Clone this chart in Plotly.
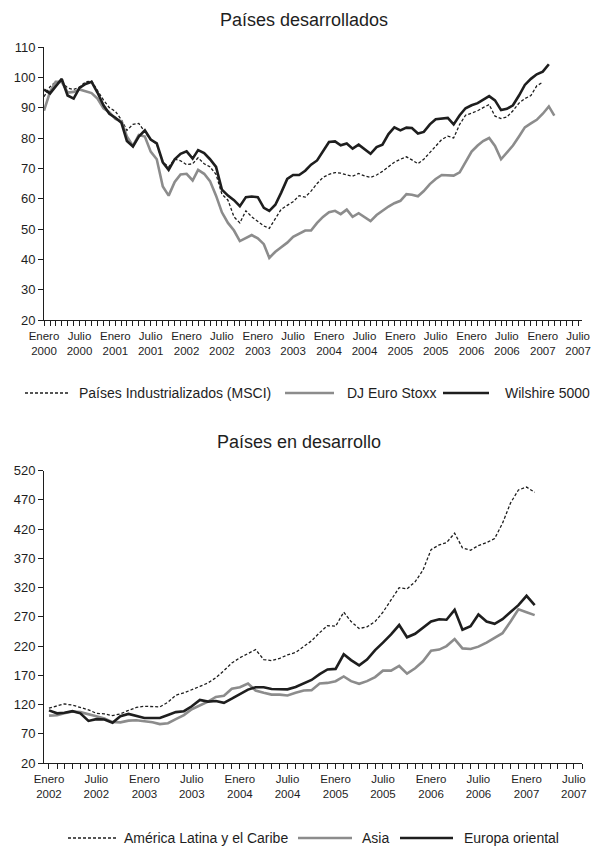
import pandas as pd
import plotly.graph_objects as go

INK = "#1e1e1e"
GRAY = "#8c8c8c"
FONT = "Liberation Sans, Arial, sans-serif"
W, H = 592, 852
ML, MR, MT, MB = 44, 10, 47, 89

# --- Países desarrollados: monthly index values from Jan 2000 ---
msci = [93.6, 96.9, 98.5, 98.5, 96.5, 96, 96.8, 98.5, 98.8, 95.5, 92.5, 90, 88.8, 86, 82.5, 84.5,
        84.8, 82, 79.5, 78, 72, 70.5, 73, 72.5, 71.2, 71.5, 73.5, 71.5, 70.5, 68, 61.5, 59.5, 54,
        52, 56, 54, 52.4, 51, 50.2, 53.2, 56.5, 57.8, 59, 61, 60.5, 62.5, 65, 67, 68, 68.6, 68.4,
        67.8, 67.4, 68.3, 67.5, 67, 67.8, 69, 70.4, 72, 73, 73.8, 72.8, 71.5, 73, 75.2, 77.3, 79.5,
        80.6, 80, 84.5, 87.5, 88.2, 89, 90, 91, 87.2, 86.4, 86.9, 89, 91.5, 93, 94, 97.2, 98.4]
euro_stoxx = [89, 95.2, 98.5, 98.5, 95, 95.2, 96, 95.5, 94.8, 93, 89.8, 88.5, 86.3, 85.5, 80.5,
              77.4, 81, 80.5, 75.5, 73, 64, 61, 65.5, 68, 68.2, 66, 69.5, 68.2, 65.8, 61, 55.5, 52,
              49.5, 46, 47, 48, 46.9, 45, 40.5, 42.5, 44, 45.5, 47.4, 48.4, 49.5, 49.5, 52, 54,
              55.5, 56, 54.9, 56.4, 54, 55.2, 53.8, 52.6, 54.6, 56, 57.4, 58.5, 59.3, 61.5, 61.3,
              60.8, 62.5, 64.8, 66.5, 67.8, 67.6, 67.6, 68.7, 72, 75.5, 77.5, 79, 80, 77.4, 73,
              75.3, 77.5, 80.5, 83.5, 84.8, 86, 88, 90.4, 87.4]
wilshire = [96, 94.7, 97, 99.5, 94, 93, 96.5, 97.8, 98.5, 95, 90.8, 88, 86.7, 85, 79, 77.2, 80.5,
            82.5, 79.5, 78.2, 72, 69.5, 73, 74.8, 75.6, 73.2, 76, 75, 73, 70.5, 63, 61, 59.5, 57.5,
            60.5, 60.7, 60.5, 57, 56, 58, 62, 66.5, 67.8, 67.8, 69.2, 71.2, 72.6, 75.5, 78.7, 78.9,
            77.6, 78.2, 76.5, 77.8, 76.3, 74.8, 77, 77.8, 81.3, 83.5, 82.5, 83.4, 83.3, 81.5, 82,
            84.5, 86.2, 86.4, 86.6, 84.5, 87.5, 89.8, 90.8, 91.5, 92.5, 93.8, 92.4, 89.2, 89.6,
            90.8, 94, 97.5, 99.5, 101, 101.9, 104.3]

# --- Países en desarrollo: monthly index values from Jan 2002 ---
america_latina = [114, 118, 121, 119, 115, 111, 105, 104, 101, 104, 110, 115, 117, 116.5, 116,
                  124, 136, 140, 146, 151, 157, 166, 178, 191, 200, 207, 214, 197, 195, 199, 205,
                  209, 219, 229, 243, 255, 254, 278, 262, 250, 253, 262, 278, 300, 320, 318, 330,
                  350, 385, 393, 397, 413, 388, 384, 392, 397, 404, 430, 465, 487, 492, 483]
asia = [101, 101.7, 105, 108, 107, 104, 100, 96, 90, 89.5, 92.5, 93, 91, 89.7, 86.5, 88, 95, 102,
        112, 118.5, 125, 133, 135, 147, 149.5, 156, 144, 140, 137, 137, 135.5, 140, 144, 144.6,
        156, 157, 160, 168, 160, 155.4, 160, 167, 178, 178, 186, 173, 182, 194, 212, 214, 220,
        232, 216, 215, 219, 226, 234, 242, 262, 283, 278, 273]
europa_oriental = [110, 105, 106, 108.6, 105, 92, 95, 94.5, 89, 100, 104, 101, 97, 97, 97, 102,
                   107, 108.6, 117, 128, 125, 126, 123, 130, 138, 145.5, 149.7, 149.7, 146.5,
                   146.5, 146, 150, 156, 162, 172, 180, 181, 206, 196, 187, 197, 213, 226, 240,
                   256, 235, 241, 251, 262, 266, 265, 282, 248, 254, 274, 262, 258, 266, 278, 290,
                   306, 290]

DOTTED = dict(color=INK, width=1.3, dash="3px,2px")
GREY_LINE = dict(color=GRAY, width=2.6)
BLACK_LINE = dict(color=INK, width=2.6)


def months(start, values):
    return pd.date_range(start, periods=len(values), freq="MS")


def half_year_ticks(first_year, last_year):
    vals, text = [], []
    for y in range(first_year, last_year + 1):
        vals += [f"{y}-01-01", f"{y}-07-01"]
        text += [f"Enero<br>{y}", f"Julio<br>{y}"]
    return vals, text


def px(x):  # page pixel -> paper fraction
    return (x - ML) / (W - ML - MR)


def py(y):
    return 1 - (y - MT) / (H - MT - MB)


fig = go.Figure()

# (name, values, line style, legend sample x0, x1, text x) -- legend drawn by hand,
# Plotly's own legend has fixed 30px samples and wraps the top row
top = [
    ("Países Industrializados (MSCI)", msci, DOTTED, 25, 70, 77),
    ("DJ Euro Stoxx", euro_stoxx, GREY_LINE, 285, 334, 345),
    ("Wilshire 5000", wilshire, BLACK_LINE, 443, 489, 503),
]
bottom = [
    ("América Latina y el Caribe", america_latina, DOTTED, 68, 116, 122),
    ("Asia", asia, GREY_LINE, 298, 352, 360),
    ("Europa oriental", europa_oriental, BLACK_LINE, 400, 453, 462),
]

shapes, annotations = [], []
for entries, start, ax, legend_y in [(top, "2000-01-01", ("x", "y"), 393),
                                     (bottom, "2002-01-01", ("x2", "y2"), 838)]:
    for name, vals, line, x0, x1, tx in entries:
        fig.add_trace(go.Scatter(x=months(start, vals), y=vals, name=name, mode="lines",
                                 line=line, xaxis=ax[0], yaxis=ax[1], showlegend=False,
                                 hovertemplate="%{x|%b %Y}: %{y}<extra>" + name + "</extra>"))
        shapes.append(dict(type="line", xref="paper", yref="paper", x0=px(x0), x1=px(x1),
                           y0=py(legend_y), y1=py(legend_y), line=line))
        annotations.append(dict(text=name, x=px(tx), y=py(legend_y), xref="paper", yref="paper",
                                showarrow=False, xanchor="left", yanchor="middle",
                                font=dict(size=14)))

annotations += [
    dict(text="Países desarrollados", x=px(304), y=py(20), xref="paper", yref="paper",
         showarrow=False, font=dict(size=18), xanchor="center", yanchor="middle"),
    dict(text="Países en desarrollo", x=px(299), y=py(442), xref="paper", yref="paper",
         showarrow=False, font=dict(size=18), xanchor="center", yanchor="middle"),
]

tv1, tt1 = half_year_ticks(2000, 2007)
tv2, tt2 = half_year_ticks(2002, 2007)
common_x = dict(type="date", showgrid=False, zeroline=False, showline=True, linecolor=INK,
                linewidth=1, ticks="outside", ticklen=5, tickcolor=INK, tickmode="array",
                tickfont=dict(size=11.5, color=INK),
                minor=dict(ticks="outside", ticklen=5, tickcolor=INK, dtick="M1"))
common_y = dict(showgrid=False, zeroline=False, showline=True, linecolor=INK, linewidth=1,
                ticks="outside", ticklen=5, tickcolor=INK, tickfont=dict(size=13, color=INK))

fig.update_layout(
    width=W, height=H,
    template="none",
    paper_bgcolor="white", plot_bgcolor="white",
    font=dict(family=FONT, color=INK, size=14),
    margin=dict(l=ML, r=MR, t=MT, b=MB),
    showlegend=False,
    xaxis=dict(common_x, domain=[0, 1], anchor="y", range=["2000-01-01", "2007-07-21"],
               tickvals=tv1, ticktext=tt1),
    yaxis=dict(common_y, domain=[py(320), 1], anchor="x", range=[20, 110], dtick=10, tick0=20),
    xaxis2=dict(common_x, domain=[0, 1], anchor="y2", range=["2001-12-13", "2007-08-01"],
                tickvals=tv2, ticktext=tt2),
    yaxis2=dict(common_y, domain=[0, py(470.7)], anchor="x2", range=[20, 520], dtick=50,
                tick0=20),
    shapes=shapes,
    annotations=annotations,
)

# drop the default body margin so the 592x852 figure fills the window exactly
fig.write_html("out.html", config={"displayModeBar": False},
               post_script="document.body.style.margin='0';")
